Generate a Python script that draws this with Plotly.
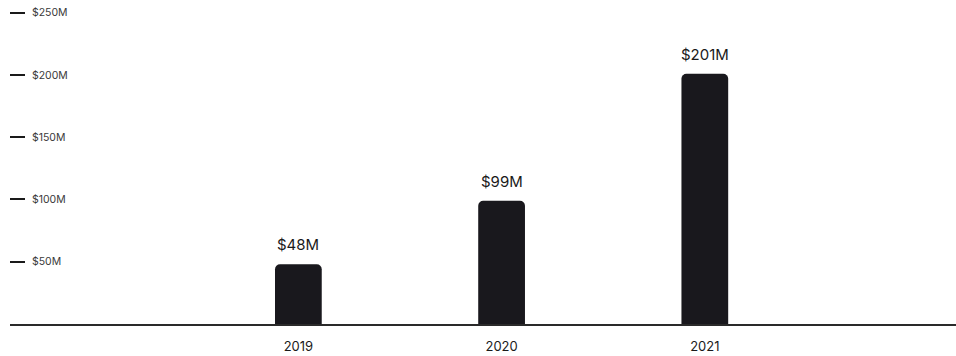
import plotly.graph_objects as go

years = ["2019", "2020", "2021"]
revenue = [48, 99, 201]  # $M
labels = ["$48M", "$99M", "$201M"]
ytick_vals = [50, 100, 150, 200, 250]
ytick_text = ["$50M", "$100M", "$150M", "$200M", "$250M"]

xpos = list(range(len(years)))

fig = go.Figure(go.Bar(
    x=xpos, y=revenue,
    marker=dict(color="#19181d", line=dict(width=0)),
    width=0.23,
))

for xv, yv, lab in zip(xpos, revenue, labels):
    fig.add_annotation(
        x=xv, y=yv, text=lab, showarrow=False, yanchor="bottom",
        yshift=8, font=dict(family="Inter", size=15, color="#1a1a1a"),
    )

fig.update_layout(
    width=956, height=356,
    margin=dict(l=10, r=0, t=0, b=32),
    paper_bgcolor="white", plot_bgcolor="white",
    barcornerradius=5,
    showlegend=False,
    font=dict(family="Inter", color="#1a1a1a"),
    xaxis=dict(
        range=[-1.419, 3.236], tickvals=xpos, ticktext=years,
        showgrid=False, zeroline=False, showline=True,
        linecolor="#2a2a2a", linewidth=1.5, ticks="",
        tickfont=dict(family="Inter", size=13, color="#1a1a1a"),
        ticklabelstandoff=10,
    ),
    yaxis=dict(
        range=[0, 260.2], tickvals=ytick_vals, ticktext=ytick_text,
        showgrid=False, zeroline=False, showline=False,
        ticks="inside", ticklen=15, tickcolor="#1a1a1a", tickwidth=1.5,
        ticklabelposition="inside", ticklabelstandoff=6,
        tickfont=dict(family="Inter", size=10.5, color="#3a3a3a"),
    ),
)

fig.write_html(
    "out.html",
    config={"displayModeBar": False},
    post_script="document.body.style.margin='0';document.body.style.padding='0';",
)
